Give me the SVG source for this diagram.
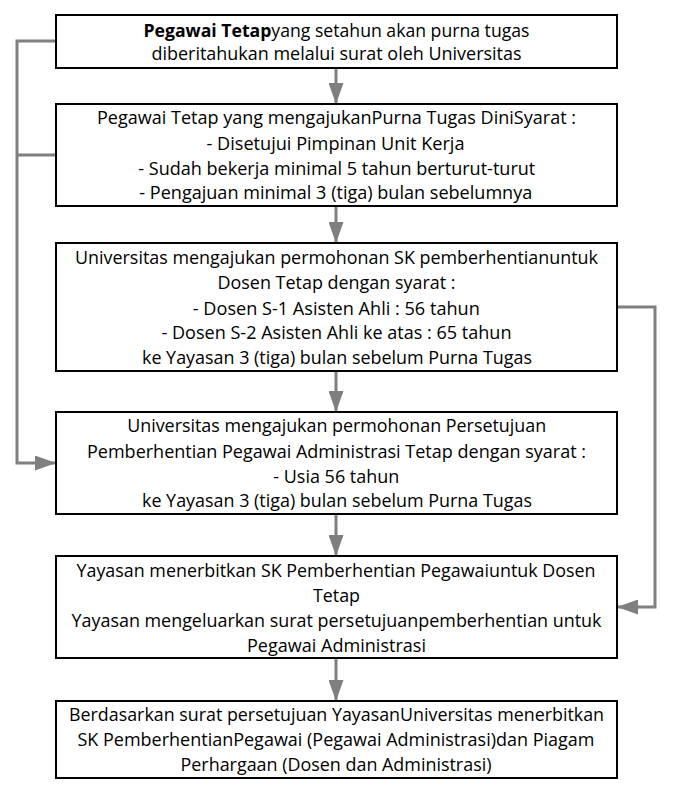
<svg xmlns="http://www.w3.org/2000/svg" width="681" height="792" viewBox="0 0 681 792">
<defs>
<style>
.box{fill:#fff;stroke:#000;stroke-width:2}
.t{font-family:"Open Sans","Noto Sans",sans-serif;font-size:17.5px;fill:#000;text-anchor:middle}
.b{font-weight:bold}
.c{fill:none;stroke:#7f7f7f;stroke-width:3}
</style>
<marker id="ah" markerUnits="userSpaceOnUse" markerWidth="21" markerHeight="15" refX="20" refY="7.5" orient="auto">
<path d="M0,0 L21,7.5 L0,15 z" fill="#7f7f7f"/>
</marker>
</defs>
<rect width="681" height="792" fill="#fff"/>
<g id="connectors">
<line class="c" x1="336" y1="69" x2="336" y2="103" marker-end="url(#ah)"/>
<line class="c" x1="336" y1="207" x2="336" y2="242" marker-end="url(#ah)"/>
<line class="c" x1="336" y1="372" x2="336" y2="411" marker-end="url(#ah)"/>
<line class="c" x1="336" y1="515" x2="336" y2="555" marker-end="url(#ah)"/>
<line class="c" x1="336" y1="659" x2="336" y2="700" marker-end="url(#ah)"/>
<polyline class="c" points="56,41 17,41 17,463 55,463" marker-end="url(#ah)"/>
<line class="c" x1="17" y1="155" x2="56" y2="155"/>
<polyline class="c" points="617,307 655,307 655,607 618,607" marker-end="url(#ah)"/>
</g>
<g id="n1">
<rect class="box" x="56" y="15" width="561" height="53"/>
<text class="t" x="336.5" y="37" textLength="386" lengthAdjust="spacingAndGlyphs"><tspan class="b">Pegawai Tetap</tspan>yang setahun akan purna tugas</text>
<text class="t" x="336.5" y="60" textLength="370" lengthAdjust="spacingAndGlyphs">diberitahukan melalui surat oleh Universitas</text>
</g>
<g id="n2">
<rect class="box" x="56" y="104" width="561" height="102"/>
<text class="t" x="336.5" y="124" textLength="479" lengthAdjust="spacingAndGlyphs">Pegawai Tetap yang mengajukanPurna Tugas DiniSyarat :</text>
<text class="t" x="335.5" y="149.5" textLength="258" lengthAdjust="spacingAndGlyphs">- Disetujui Pimpinan Unit Kerja</text>
<text class="t" x="336.8" y="175" textLength="397" lengthAdjust="spacingAndGlyphs">- Sudah bekerja minimal 5 tahun berturut-turut</text>
<text class="t" x="335.8" y="199" textLength="393" lengthAdjust="spacingAndGlyphs">- Pengajuan minimal 3 (tiga) bulan sebelumnya</text>
</g>
<g id="n3">
<rect class="box" x="56" y="243" width="561" height="128"/>
<text class="t" x="336.5" y="264" textLength="523" lengthAdjust="spacingAndGlyphs">Universitas mengajukan permohonan SK pemberhentianuntuk</text>
<text class="t" x="336.5" y="289" textLength="238" lengthAdjust="spacingAndGlyphs">Dosen Tetap dengan syarat :</text>
<text class="t" x="336.3" y="315" textLength="287" lengthAdjust="spacingAndGlyphs">- Dosen S-1 Asisten Ahli : 56 tahun</text>
<text class="t" x="336.5" y="339" textLength="350" lengthAdjust="spacingAndGlyphs">- Dosen S-2 Asisten Ahli ke atas : 65 tahun</text>
<text class="t" x="337" y="364" textLength="390" lengthAdjust="spacingAndGlyphs">ke Yayasan 3 (tiga) bulan sebelum Purna Tugas</text>
</g>
<g id="n4">
<rect class="box" x="56" y="412" width="561" height="102"/>
<text class="t" x="336.7" y="432" textLength="419" lengthAdjust="spacingAndGlyphs">Universitas mengajukan permohonan Persetujuan</text>
<text class="t" x="336.5" y="457.5" textLength="499" lengthAdjust="spacingAndGlyphs">Pemberhentian Pegawai Administrasi Tetap dengan syarat :</text>
<text class="t" x="336.3" y="483" textLength="126" lengthAdjust="spacingAndGlyphs">- Usia 56 tahun</text>
<text class="t" x="337" y="507" textLength="390" lengthAdjust="spacingAndGlyphs">ke Yayasan 3 (tiga) bulan sebelum Purna Tugas</text>
</g>
<g id="n5">
<rect class="box" x="56" y="556" width="561" height="102"/>
<text class="t" x="336" y="577" textLength="519" lengthAdjust="spacingAndGlyphs">Yayasan menerbitkan SK Pemberhentian Pegawaiuntuk Dosen</text>
<text class="t" x="336.5" y="602" textLength="47" lengthAdjust="spacingAndGlyphs">Tetap</text>
<text class="t" x="336.5" y="627" textLength="530" lengthAdjust="spacingAndGlyphs">Yayasan mengeluarkan surat persetujuanpemberhentian untuk</text>
<text class="t" x="336.5" y="651.5" textLength="179" lengthAdjust="spacingAndGlyphs">Pegawai Administrasi</text>
</g>
<g id="n6">
<rect class="box" x="56" y="701" width="561" height="77"/>
<text class="t" x="336.5" y="721" textLength="535" lengthAdjust="spacingAndGlyphs">Berdasarkan surat persetujuan YayasanUniversitas menerbitkan</text>
<text class="t" x="336" y="746" textLength="517" lengthAdjust="spacingAndGlyphs">SK PemberhentianPegawai (Pegawai Administrasi)dan Piagam</text>
<text class="t" x="336" y="771" textLength="311" lengthAdjust="spacingAndGlyphs">Perhargaan (Dosen dan Administrasi)</text>
</g>
</svg>
